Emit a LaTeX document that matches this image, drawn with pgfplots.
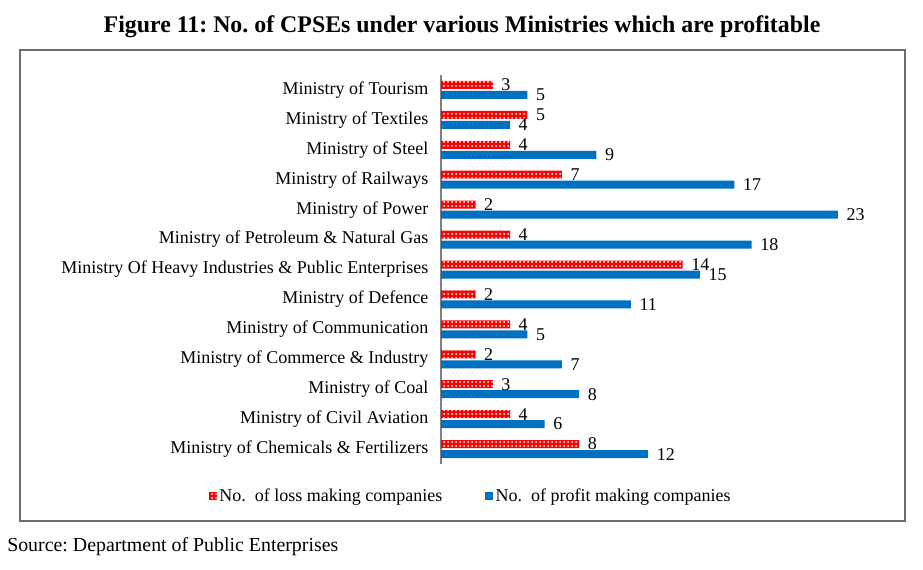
\documentclass[border=0pt]{standalone}
\usepackage{pgfplots}
\pgfplotsset{compat=1.18}
\usepackage{fontspec}
\setmainfont{Liberation Serif}
\usetikzlibrary{patterns.meta}
\definecolor{cblue}{HTML}{0070C0}
\definecolor{cred}{HTML}{FF0000}
\frenchspacing
\begin{document}
\begin{tikzpicture}
\begin{scope}[x=0.75pt,y=-0.75pt]
\useasboundingbox (0,0) rectangle (923,570);
\draw[gray!85!black, line width=0.8pt] (20,50) rectangle (905,521);
\node[font=\fontsize{17.9}{20}\selectfont\bfseries] at (462,27) {Figure 11: No. of CPSEs under various Ministries which are profitable};
\node[anchor=west, font=\fontsize{14.9}{17}\selectfont, inner sep=0pt] at (7,547) {Source: Department of Public Enterprises};
\end{scope}
\begin{axis}[
  at={(330.75pt,-348pt)}, anchor=south west,
  scale only axis, width=323.6pt, height=291.75pt,
  xbar, bar width=6pt,
  xmin=0, xmax=25, ymin=-0.5, ymax=12.5,
  axis x line=none, axis y line*=left,
  y axis line style={draw=gray, line width=0.9pt},
  ytick=data, major tick length=0pt,
  yticklabels={Ministry of Chemicals \& Fertilizers, Ministry of Civil Aviation, Ministry of Coal, Ministry of Commerce \& Industry, Ministry of Communication, Ministry of Defence, Ministry Of Heavy Industries \& Public Enterprises, Ministry of Petroleum \& Natural Gas, Ministry of Power, Ministry of Railways, Ministry of Steel, Ministry of Textiles, Ministry of Tourism},
  yticklabel style={font=\fontsize{13.5}{15}\selectfont, xshift=-6pt},
  /pgf/number format/assume math mode=true,
  nodes near coords,
  every node near coord/.append style={font=\fontsize{13.5}{15}\selectfont, black, anchor=west, xshift=3pt},
  legend columns=2,
  legend style={at={(0.0695,-0.0823)}, anchor=center, draw=none, font=\fontsize{13.5}{15}\selectfont, /tikz/every even column/.append style={column sep=30pt}},
  legend image code/.code={\draw[#1, draw=none] (0pt,-3pt) rectangle (6pt,3pt);},
  clip=false,
]
\addplot[draw=none, fill=cred, bar shift=3.75pt, postaction={pattern={Dots[distance=3pt,radius=0.75pt]}, pattern color=white}] coordinates {
(8,0) (4,1) (3,2) (2,3) (4,4) (2,5) (14,6) (4,7) (2,8) (7,9) (4,10) (5,11) (3,12)};
\addlegendentry{No.\ \ of loss making companies}
\addplot[draw=none, fill=cblue, bar shift=-3.75pt] coordinates {
(12,0) (6,1) (8,2) (7,3) (5,4) (11,5) (15,6) (18,7) (23,8) (17,9) (9,10) (4,11) (5,12)};
\addlegendentry{No.\ \ of profit making companies}
\end{axis}
\end{tikzpicture}
\end{document}
